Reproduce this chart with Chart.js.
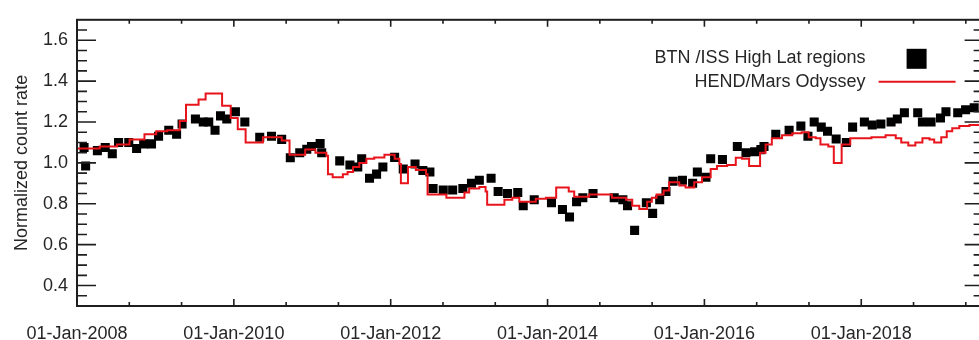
<!DOCTYPE html>
<html>
<head>
<meta charset="utf-8">
<title>Normalized count rate</title>
<script src="https://cdn.jsdelivr.net/npm/chart.js@4.4.1/dist/chart.umd.min.js"></script>
<style>
  html, body { margin: 0; padding: 0; overflow: hidden; background: #ffffff; }
  canvas { display: block; }
</style>
</head>
<body>
<canvas id="chart" width="990" height="340"></canvas>
<script>
// BTN/ISS high-latitude measurements (decimal year, normalized count rate)
const btnYears = [
  2008.09, 2008.11, 2008.26, 2008.36, 2008.45, 2008.53, 2008.66, 2008.76, 2008.85, 2008.95,
  2009.04, 2009.17, 2009.27, 2009.34, 2009.51, 2009.61, 2009.68, 2009.76, 2009.83, 2009.91,
  2010.02, 2010.14, 2010.33, 2010.48, 2010.61, 2010.72, 2010.84, 2010.93, 2010.99, 2011.10,
  2011.12, 2011.35, 2011.48, 2011.58, 2011.63, 2011.73, 2011.82, 2011.90, 2012.05, 2012.16,
  2012.31, 2012.41, 2012.50, 2012.54, 2012.67, 2012.79, 2012.92, 2013.03, 2013.13, 2013.28,
  2013.37, 2013.49, 2013.62, 2013.69, 2013.83, 2014.05, 2014.19, 2014.28, 2014.37, 2014.45,
  2014.58, 2014.85, 2014.96, 2015.02, 2015.11, 2015.26, 2015.34, 2015.43, 2015.51, 2015.60,
  2015.72, 2015.85, 2015.91, 2016.02, 2016.08, 2016.23, 2016.42, 2016.53, 2016.64, 2016.72,
  2016.76, 2016.91, 2017.08, 2017.23, 2017.32, 2017.40, 2017.49, 2017.57, 2017.68, 2017.81,
  2017.89, 2018.04, 2018.14, 2018.25, 2018.38, 2018.46, 2018.55, 2018.72, 2018.78, 2018.89,
  2019.01, 2019.08, 2019.23, 2019.33, 2019.44
];
const btnValues = [
  1.075, 0.985, 1.06, 1.075, 1.045, 1.10, 1.10, 1.07, 1.093, 1.093,
  1.13, 1.16, 1.14, 1.19, 1.215, 1.20, 1.20, 1.16, 1.23, 1.215,
  1.25, 1.20, 1.125, 1.13, 1.115, 1.025, 1.05, 1.067, 1.08, 1.095,
  1.05, 1.01, 0.99, 0.98, 1.02, 0.925, 0.945, 0.98, 1.027, 0.97,
  0.995, 0.963, 0.955, 0.875, 0.867, 0.867, 0.875, 0.90, 0.915, 0.925,
  0.86, 0.85, 0.855, 0.79, 0.82, 0.805, 0.772, 0.735, 0.81, 0.83,
  0.85, 0.83, 0.82, 0.79, 0.67, 0.805, 0.753, 0.82, 0.86, 0.91,
  0.915, 0.90, 0.955, 0.93, 1.02, 1.017, 1.08, 1.05, 1.055, 1.065,
  1.08, 1.14, 1.16, 1.18, 1.13, 1.20, 1.175, 1.155, 1.117, 1.10,
  1.175, 1.20, 1.185, 1.19, 1.20, 1.215, 1.245, 1.245, 1.20, 1.20,
  1.22, 1.25, 1.245, 1.26, 1.27
];

// HEND/Mars Odyssey: each level holds from its start year until the next one
const hendYears = [
  2008.00, 2008.29, 2008.51, 2008.67, 2008.86, 2009.01, 2009.15, 2009.31, 2009.39, 2009.55,
  2009.64, 2009.85, 2009.96, 2010.05, 2010.15, 2010.37, 2010.61, 2010.71, 2010.91, 2011.04,
  2011.18, 2011.20, 2011.26, 2011.39, 2011.45, 2011.52, 2011.60, 2011.69, 2011.79, 2011.92,
  2012.05, 2012.11, 2012.13, 2012.22, 2012.32, 2012.45, 2012.47, 2012.71, 2012.94, 2013.00,
  2013.13, 2013.21, 2013.23, 2013.45, 2013.55, 2013.64, 2013.85, 2013.98, 2014.11, 2014.27,
  2014.34, 2014.53, 2014.82, 2015.00, 2015.08, 2015.17, 2015.27, 2015.33, 2015.39, 2015.48,
  2015.55, 2015.68, 2015.76, 2015.87, 2015.97, 2016.08, 2016.16, 2016.29, 2016.40, 2016.48,
  2016.57, 2016.71, 2016.78, 2016.86, 2016.99, 2017.12, 2017.24, 2017.33, 2017.42, 2017.48,
  2017.58, 2017.65, 2017.75, 2017.86, 2018.13, 2018.31, 2018.44, 2018.51, 2018.60, 2018.69,
  2018.78, 2018.87, 2018.93, 2019.02, 2019.09, 2019.16, 2019.25, 2019.38, 2019.56
];
const hendValues = [
  1.07, 1.08, 1.09, 1.115, 1.14, 1.155, 1.16, 1.205, 1.285, 1.31,
  1.34, 1.28, 1.22, 1.165, 1.10, 1.125, 1.11, 1.04, 1.065, 1.05,
  1.035, 0.945, 0.93, 0.945, 0.955, 0.98, 1.0, 1.02, 1.027, 1.04,
  1.02, 0.995, 0.90, 0.98, 0.965, 0.945, 0.845, 0.83, 0.855, 0.875,
  0.882, 0.86, 0.795, 0.82, 0.83, 0.81, 0.825, 0.83, 0.88, 0.86,
  0.835, 0.845, 0.83, 0.82, 0.79, 0.775, 0.81, 0.83, 0.845, 0.865,
  0.905, 0.89, 0.88, 0.905, 0.93, 0.97, 0.985, 0.99, 1.025, 1.02,
  0.985, 1.05, 1.09, 1.12, 1.135, 1.145, 1.15, 1.125, 1.12, 1.09,
  1.08, 1.0, 1.09, 1.12, 1.125, 1.135, 1.12, 1.10, 1.085, 1.10,
  1.12, 1.115, 1.10, 1.125, 1.155, 1.17, 1.18, 1.185, 1.185
];

const seriesNames = ['BTN /ISS High Lat regions', 'HEND/Mars Odyssey'];
const xTickYears = [2008, 2010, 2012, 2014, 2016, 2018];
const xTickLabels = ['01-Jan-2008', '01-Jan-2010', '01-Jan-2012', '01-Jan-2014', '01-Jan-2016', '01-Jan-2018'];
const yTickValues = [0.4, 0.6, 0.8, 1.0, 1.2, 1.4, 1.6];
const yTickLabels = ['0.4', '0.6', '0.8', '1.0', '1.2', '1.4', '1.6'];
const yTitle = 'Normalized count rate';

const FONT = '"Liberation Sans", Arial, Helvetica, sans-serif';
const INK = '#1e1e1e';
const TEXT = '#262626';
const RED = '#e8141c';

Chart.defaults.font.family = FONT;
Chart.defaults.font.size = 18;
Chart.defaults.color = TEXT;

// Box frame with inward-pointing major/minor ticks on all four sides
const frameTicks = {
  id: 'frameTicks',
  afterDatasetsDraw(chart) {
    const { ctx, chartArea: a, scales: { x, y } } = chart;
    ctx.save();
    ctx.strokeStyle = INK;
    ctx.lineWidth = 2;
    ctx.strokeRect(a.left, a.top, a.right - a.left, a.bottom - a.top);
    ctx.lineWidth = 1.6;
    ctx.beginPath();
    for (let k = 7; k <= 33; k++) {
      const py = y.getPixelForValue(k * 0.05);
      const len = (k % 4 === 0) ? 19 : 10;
      ctx.moveTo(a.left, py); ctx.lineTo(a.left + len, py);
      ctx.moveTo(a.right, py); ctx.lineTo(a.right - len, py);
    }
    for (let k = 0; ; k++) {
      const t = 2008 + k * 2 / 3;
      if (t > x.max) break;
      const px = x.getPixelForValue(t);
      const len = (k % 3 === 0) ? 7 : 4;
      ctx.moveTo(px, a.bottom); ctx.lineTo(px, a.bottom - len);
      ctx.moveTo(px, a.top); ctx.lineTo(px, a.top + len);
    }
    ctx.stroke();
    ctx.restore();
  }
};

// Legend inside the plot, text right-aligned with the symbol on its right
const innerLegend = {
  id: 'innerLegend',
  afterDraw(chart) {
    const { ctx, chartArea: a } = chart;
    const ds = chart.data.datasets;
    const btn = ds.find(d => d.label === seriesNames[0]);
    const hend = ds.find(d => d.label === seriesNames[1]);
    const textRight = a.right - 118;
    ctx.save();
    ctx.font = '18px ' + FONT;
    ctx.fillStyle = TEXT;
    ctx.textAlign = 'right';
    ctx.textBaseline = 'middle';
    ctx.fillText(btn.label, textRight, a.top + 38);
    ctx.fillText(hend.label, textRight, a.top + 62);
    ctx.fillStyle = btn.pointBackgroundColor;
    ctx.fillRect(a.right - 77, a.top + 29, 20, 20);
    ctx.strokeStyle = hend.borderColor;
    ctx.lineWidth = 2;
    ctx.beginPath();
    ctx.moveTo(a.right - 105, a.top + 62);
    ctx.lineTo(a.right - 28, a.top + 62);
    ctx.stroke();
    ctx.restore();
  }
};

new Chart(document.getElementById('chart'), {
  type: 'line',
  data: {
    datasets: [
      {
        label: seriesNames[1],
        data: hendYears.map((t, i) => ({ x: t, y: hendValues[i] })),
        borderColor: RED,
        borderWidth: 2,
        stepped: true,
        pointRadius: 0,
        fill: false,
        order: 0
      },
      {
        label: seriesNames[0],
        data: btnYears.map((t, i) => ({ x: t, y: btnValues[i] })),
        showLine: false,
        pointStyle: 'rect',
        pointRadius: 6.4,
        pointBackgroundColor: '#000000',
        pointBorderColor: '#000000',
        pointBorderWidth: 0,
        order: 1
      }
    ]
  },
  options: {
    responsive: false,
    animation: false,
    devicePixelRatio: 1,
    layout: { padding: { top: 15, right: 5, left: 0, bottom: 0 } },
    plugins: { legend: { display: false }, tooltip: { enabled: false } },
    scales: {
      x: {
        type: 'linear',
        min: 2008,
        max: 2019.56,
        grid: { display: false, drawTicks: false },
        border: { display: false },
        afterBuildTicks: s => { s.ticks = xTickYears.map(v => ({ value: v })); },
        afterFit: s => { s.height = 34; },
        ticks: {
          padding: 17,
          maxRotation: 0,
          autoSkip: false,
          color: TEXT,
          callback: (v, i) => xTickLabels[i]
        }
      },
      y: {
        type: 'linear',
        min: 0.3,
        max: 1.7,
        grid: { display: false, drawTicks: false },
        border: { display: false },
        afterBuildTicks: s => { s.ticks = yTickValues.map(v => ({ value: v })); },
        afterFit: s => { s.width = 77; },
        ticks: {
          padding: 9,
          color: TEXT,
          callback: (v, i) => yTickLabels[i]
        },
        title: {
          display: true,
          text: yTitle,
          color: TEXT,
          padding: { top: 11, bottom: 0 },
          font: { size: 18 }
        }
      }
    }
  },
  plugins: [frameTicks, innerLegend]
});
</script>
</body>
</html>
